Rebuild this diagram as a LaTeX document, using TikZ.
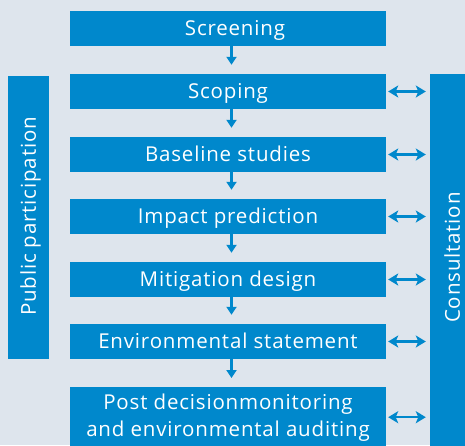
\documentclass[tikz,border=0pt]{standalone}
\usepackage{fontspec}
\setmainfont{Open Sans}[LetterSpace=4]
\usetikzlibrary{arrows.meta,calc}
\definecolor{eiablue}{HTML}{0088CC}
\definecolor{eiabg}{HTML}{DEE5ED}
\tikzset{
  stepbox/.style={fill=eiablue, text=white, minimum width=316pt, minimum height=35pt, inner sep=0pt, text height=14.6pt, text depth=0pt, font=\fontsize{20.5}{24}\selectfont},
  sidebox/.style={fill=eiablue, inner sep=0pt},
  sidetext/.style={text=white, rotate=90, font=\fontsize{20.5}{24}\selectfont, inner sep=0pt, text height=14.6pt, text depth=0pt},
  varrow/.style={draw=eiablue, line width=2.5pt, -{Triangle[length=8pt,width=10pt]}},
  harrow/.style={draw=eiablue, line width=2.5pt, {Stealth[length=10pt,width=12pt,inset=2.5pt]}-{Stealth[length=10pt,width=12pt,inset=2.5pt]}}
}
\begin{document}
\begin{tikzpicture}[x=1pt,y=-1pt]
\useasboundingbox (0,0) rectangle (465,445);
\fill[eiabg] (0,0) rectangle (465,445);
\clip (0,0) rectangle (465,445);
% side boxes
\node[sidebox, minimum width=41pt, minimum height=283pt] (pub) at (28.5,217.5) {};
\node[sidetext] (pubt) at (28.5,216.5) {Public participation};
\node[sidebox, minimum width=44pt, minimum height=380pt] (cons) at (452,264) {};
\node[sidetext] (const) at (452.5,257.5) {Consultation};
% steps
\node[stepbox] (s1) at (228,28.5) {\hspace{14pt}Screening};
\node[stepbox] (s2) at (228,91.5) {Scoping};
\node[stepbox] (s3) at (228,154.5) {Baseline studies};
\node[stepbox] (s4) at (228,216.5) {Impact prediction};
\node[stepbox] (s5) at (228,279.5) {Mitigation design};
\node[stepbox] (s6) at (228,341.5) {Environmental statement};
\node[stepbox, minimum height=60pt, align=center, anchor=north, text height=, text depth=, font=\fontsize{20.5}{27}\selectfont] (s7) at (228,387) {Post decisionmonitoring\\and environmental auditing};
% vertical arrows
\foreach \a/\b in {s1/s2,s2/s3,s3/s4,s4/s5,s5/s6,s6/s7}
  \draw[varrow] ([xshift=3.5pt]\a.south) -- ([xshift=3.5pt,yshift=9pt]\b.north);
% horizontal arrows
\foreach \n in {s2,s3,s4,s5,s6,s7}
  \draw[harrow, shorten <=2pt, shorten >=4pt] (\n.east) -- (\n.east -| cons.west);
\end{tikzpicture}
\end{document}
